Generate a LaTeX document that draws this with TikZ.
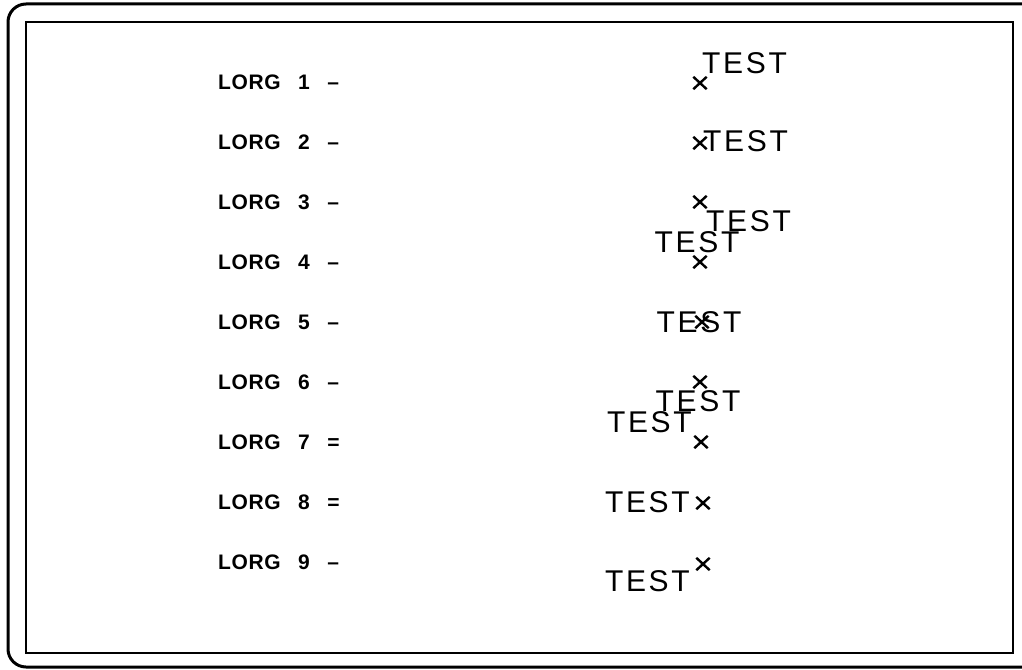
\documentclass[tikz,border=0pt]{standalone}
\usepackage{fontspec}
\setmainfont{Liberation Sans}
\newfontfamily\plotfont[LetterSpace=9]{Liberation Sans}
\newfontfamily\lorgfont[WordSpace=2.7, LetterSpace=3]{Liberation Sans}
\usetikzlibrary{shapes.misc}

\begin{document}
\begin{tikzpicture}[
    x=1pt, y=-1pt,
    lorg/.style={font=\lorgfont\fontsize{21}{25}\selectfont\bfseries, inner sep=0pt, anchor=base west},
    test/.style={font=\plotfont\fontsize{30}{36}\selectfont, inner sep=0pt, anchor=#1},
    origin/.style={cross out, draw, line width=2.4pt, minimum width=11pt, minimum height=10pt, inner sep=0pt}
]
    \useasboundingbox (0,0) rectangle (1022,669);
    \clip (0,0) rectangle (1022,669);

    % Frame
    \draw[line width=3pt, rounded corners=18pt] (8,4) rectangle (1050,667);
    \draw[line width=2.5pt] (26,22) rectangle (1013,653);

    % Labels
    \node[lorg] (l1) at (218,89) {LORG 1 –};
    \node[lorg] (l2) at (218,149) {LORG 2 –};
    \node[lorg] (l3) at (218,209) {LORG 3 –};
    \node[lorg] (l4) at (218,269) {LORG 4 –};
    \node[lorg] (l5) at (218,329) {LORG 5 –};
    \node[lorg] (l6) at (218,389) {LORG 6 –};
    \node[lorg] (l7) at (218,449) {LORG 7 =};
    \node[lorg] (l8) at (218,509) {LORG 8 =};
    \node[lorg] (l9) at (218,569) {LORG 9 –};

    % Label origins
    \node[origin] (o1) at (700,83) {};
    \node[origin] (o2) at (700,143) {};
    \node[origin] (o3) at (700,202) {};
    \node[origin] (o4) at (700,262) {};
    \node[origin] (o5) at (702,322) {};
    \node[origin] (o6) at (700,382) {};
    \node[origin] (o7) at (701,442) {};
    \node[origin] (o8) at (703,503) {};
    \node[origin] (o9) at (703,564) {};

    % Text placed by origin
    \node[test=south west] (t1) at (702,74) {TEST};
    \node[test=west] (t2) at (703,141) {TEST};
    \node[test=north west] (t3) at (706,210) {TEST};
    \node[test=south] (t4) at (697,253) {TEST};
    \node[test=center] (t5) at (699,322) {TEST};
    \node[test=north] (t6) at (698,390) {TEST};
    \node[test=south east] (t7) at (692,433) {TEST};
    \node[test=east] (t8) at (690,502) {TEST};
    \node[test=north east] (t9) at (690,570) {TEST};
\end{tikzpicture}
\end{document}
